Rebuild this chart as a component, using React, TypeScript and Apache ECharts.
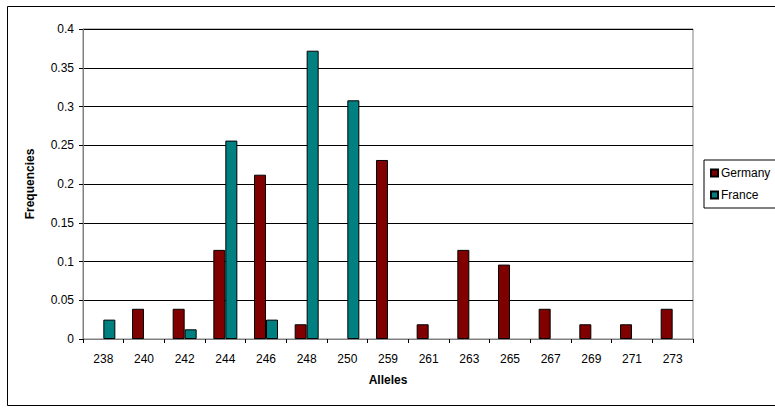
import React, { useEffect, useRef } from "react";
import * as echarts from "echarts";

const categories = ["238", "240", "242", "244", "246", "248", "250", "259", "261", "263", "265", "267", "269", "271", "273"];
const germany = [0, 0.039, 0.039, 0.115, 0.212, 0.019, 0, 0.231, 0.019, 0.115, 0.096, 0.039, 0.019, 0.019, 0.039];
const france = [0.025, 0, 0.0125, 0.256, 0.025, 0.372, 0.308, 0, 0, 0, 0, 0, 0, 0, 0];
const yTicks = { min: 0, max: 0.4, interval: 0.05 };

const FONT = "'Liberation Sans', Arial, sans-serif";
const hideZero = (arr: number[]) => arr.map((v) => (v === 0 ? null : v));

export default function App() {
  const ref = useRef<HTMLDivElement>(null);
  useEffect(() => {
    if (!ref.current) return;
    const chart = echarts.init(ref.current, undefined, { renderer: "svg" });
    chart.setOption({
      animation: false,
      backgroundColor: "#ffffff",
      textStyle: { fontFamily: FONT },
      graphic: [
        {
          type: "rect",
          shape: { x: 7.5, y: 6.5, width: 800, height: 399 },
          style: { fill: "none", stroke: "#000", lineWidth: 1 },
          silent: true,
        },
      ],
      grid: { left: 83, top: 29, width: 610, height: 310, show: true, borderColor: "#808080", borderWidth: 1, backgroundColor: "#fff" },
      legend: {
        orient: "vertical",
        left: 704,
        top: 160,
        padding: [7, 40, 7, 6],
        itemWidth: 7,
        itemHeight: 7,
        itemGap: 10,
        icon: "rect",
        borderColor: "#000",
        borderWidth: 1,
        textStyle: { fontSize: 12, color: "#000", fontFamily: FONT, padding: [0, 0, 0, -2] },
        data: ["Germany", "France"],
      },
      xAxis: {
        type: "category",
        data: categories,
        name: "Alleles",
        nameLocation: "middle",
        nameGap: 35,
        nameTextStyle: { fontSize: 12, fontWeight: "bold", color: "#000", fontFamily: FONT },
        axisLine: { lineStyle: { color: "#808080", width: 1 } },
        axisTick: { show: true, length: 4, lineStyle: { color: "#000" } },
        axisLabel: { fontSize: 12, color: "#000", margin: 14, fontFamily: FONT },
      },
      yAxis: {
        type: "value",
        min: yTicks.min,
        max: yTicks.max,
        interval: yTicks.interval,
        name: "Frequencies",
        nameLocation: "middle",
        nameGap: 47,
        nameRotate: 90,
        nameTextStyle: { fontSize: 12, fontWeight: "bold", color: "#000", fontFamily: FONT },
        axisLine: { show: true, lineStyle: { color: "#808080", width: 1 } },
        axisTick: { show: true, length: 4, lineStyle: { color: "#000" } },
        axisLabel: { fontSize: 12, color: "#000", margin: 9, fontFamily: FONT },
        splitLine: { show: true, lineStyle: { color: "#000", width: 1 } },
      },
      series: [
        {
          name: "Germany",
          type: "bar",
          data: hideZero(germany),
          barWidth: 12,
          barGap: "0%",
          itemStyle: { color: "#800000", borderColor: "#000", borderWidth: 1 },
        },
        {
          name: "France",
          type: "bar",
          data: hideZero(france),
          barWidth: 12,
          barGap: "0%",
          itemStyle: { color: "#008080", borderColor: "#000", borderWidth: 1 },
        },
      ],
    });
    return () => chart.dispose();
  }, []);
  return <div ref={ref} style={{ position: "fixed", left: 0, top: 0, width: 775, height: 408 }} />;
}
